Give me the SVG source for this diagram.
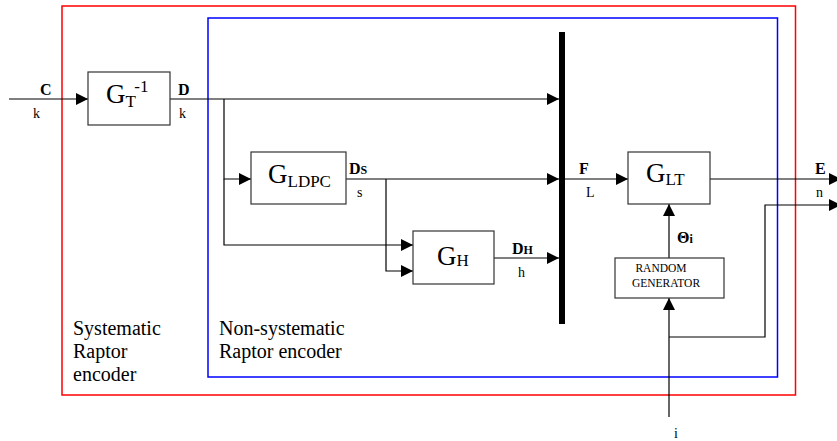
<svg xmlns="http://www.w3.org/2000/svg" width="837" height="441" viewBox="0 0 837 441">
<style>
.box{fill:#fff;stroke:#333;stroke-width:1.2}
.ln{fill:none;stroke:#000;stroke-width:1.2}
text{font-family:"Liberation Serif","Times New Roman","DejaVu Serif",serif;fill:#000}
.g{font-size:27px}
.sub{font-size:17px}
.lb{font-size:16px;font-weight:bold}
.sm{font-size:14px}
.cap{font-size:20px}
.rg{font-size:11.5px}
</style>
<defs>
<marker id="ah" viewBox="0 0 10 10" refX="10" refY="5" markerWidth="12" markerHeight="12" markerUnits="userSpaceOnUse" orient="auto">
<path d="M0,0 L10,5 L0,10 z" fill="#000"/>
</marker>
</defs>
<rect x="62" y="6" width="733.5" height="389" fill="none" stroke="#f00" stroke-width="1.5"/>
<rect x="208" y="18" width="569.5" height="359" fill="none" stroke="#00f" stroke-width="1.5"/>
<g id="connectors">
<line class="ln" x1="9" y1="99" x2="88" y2="99" marker-end="url(#ah)"/>
<line class="ln" x1="170" y1="99" x2="559" y2="99" marker-end="url(#ah)"/>
<polyline class="ln" points="224,99 224,179 251,179" marker-end="url(#ah)"/>
<polyline class="ln" points="224,179 224,245 413,245" marker-end="url(#ah)"/>
<line class="ln" x1="346" y1="179" x2="559" y2="179" marker-end="url(#ah)"/>
<polyline class="ln" points="386,179 386,271 413,271" marker-end="url(#ah)"/>
<line class="ln" x1="494" y1="258" x2="559" y2="258" marker-end="url(#ah)"/>
<line class="ln" x1="565" y1="179" x2="628" y2="179" marker-end="url(#ah)"/>
<line class="ln" x1="710" y1="179" x2="841" y2="179" marker-end="url(#ah)"/>
<polyline class="ln" points="669,337 765,337 765,205 841,205" marker-end="url(#ah)"/>
<line class="ln" x1="669" y1="417" x2="669" y2="298" marker-end="url(#ah)"/>
<line class="ln" x1="669" y1="258" x2="669" y2="204" marker-end="url(#ah)"/>
</g>
<g id="bar"><rect x="559" y="32" width="6" height="292" fill="#000"/></g>
<g id="gt">
<rect class="box" x="88" y="72" width="82" height="53"/>
<text class="g" x="106" y="103">G<tspan class="sub" dy="4">T</tspan><tspan class="sub" dy="-15">-1</tspan></text>
</g>
<g id="gldpc">
<rect class="box" x="251" y="152" width="95" height="52"/>
<text class="g" x="268" y="183">G<tspan class="sub" dy="4">LDPC</tspan></text>
</g>
<g id="gh">
<rect class="box" x="413" y="231" width="81" height="53"/>
<text class="g" x="437" y="265">G<tspan class="sub" dy="1">H</tspan></text>
</g>
<g id="glt">
<rect class="box" x="628" y="152" width="82" height="52"/>
<text class="g" x="646" y="182">G<tspan class="sub" dy="3">LT</tspan></text>
</g>
<g id="rg">
<rect class="box" x="615" y="258" width="109" height="40"/>
<text class="rg" x="661" y="272" text-anchor="middle">RANDOM</text>
<text class="rg" x="666" y="287" text-anchor="middle">GENERATOR</text>
</g>
<g id="labels">
<text class="lb" x="40" y="95">C</text>
<text class="sm" x="33" y="118">k</text>
<text class="lb" x="178" y="95">D</text>
<text class="sm" x="179" y="118">k</text>
<text class="lb" x="349" y="174">D<tspan font-size="12">S</tspan></text>
<text class="sm" x="357" y="197">s</text>
<text class="lb" x="512" y="254">D<tspan font-size="12">H</tspan></text>
<text class="sm" x="518" y="277">h</text>
<text class="lb" x="579" y="174">F</text>
<text class="sm" x="586" y="197">L</text>
<text class="lb" x="815" y="174">E</text>
<text class="sm" x="816" y="197">n</text>
<text class="lb" x="677" y="243" font-size="17">Θ<tspan font-size="12">i</tspan></text>
<text class="sm" x="674" y="438">i</text>
<text class="cap" x="73" y="335">Systematic</text>
<text class="cap" x="73" y="358">Raptor</text>
<text class="cap" x="73" y="381">encoder</text>
<text class="cap" x="219" y="335">Non-systematic</text>
<text class="cap" x="219" y="358">Raptor encoder</text>
</g>
</svg>
